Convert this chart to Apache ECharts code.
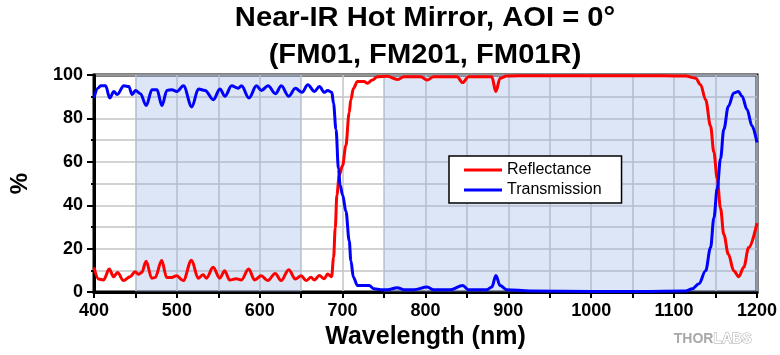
<!DOCTYPE html>
<html>
<head>
<meta charset="utf-8">
<script src="https://cdn.jsdelivr.net/npm/echarts@6/dist/echarts.min.js"></script>
<style>
html,body{margin:0;padding:0;background:#fff;}
#chart{width:780px;height:355px;}
</style>
</head>
<body>
<div id="chart"></div>
<script>
// ---- data ----
var titleLines = ['Near-IR Hot Mirror, AOI = 0°', '(FM01, FM201, FM01R)'];
var xName = 'Wavelength (nm)';
var yName = '%';
var seriesNames = ['Reflectance', 'Transmission'];
var shadedBands = [[450, 650], [750, 1200]];

var reflWl = [400, 405.6, 411.6, 418.4, 423.6, 428.4, 435.6, 443.6, 449.6, 453.7, 457.6, 462.9, 469.7, 473.7, 481.7, 487.7, 493.7, 499.7, 507.7, 517.7, 525.7, 531.7, 535.7, 543.7, 551.7, 557.7, 563.7, 571.8, 577.8, 586.6, 593.8, 601.8, 609.8, 618.6, 625.8, 635, 643, 650, 655.9, 661.9, 665.8, 671.9, 677.9, 681.9, 686.7, 689.1, 691.1, 693.1, 695.9, 699.9, 703.9, 707.9, 709.9, 713.1, 717.9, 725.9, 729.9, 735.9, 741.9, 754, 766, 774, 794, 802, 810, 838, 844.8, 852, 880, 884.9, 890, 898, 926, 1000, 1060, 1114, 1126, 1132, 1138, 1144, 1148, 1152, 1156, 1160, 1165.5, 1172, 1178, 1184, 1190, 1200];
var reflVal = [11.4, 6, 5.6, 10.6, 7.1, 9, 5.3, 7.1, 9.4, 8.2, 9, 14.2, 6.4, 6.7, 14.5, 6.7, 6.7, 7.5, 5.3, 14.7, 6.4, 8, 6.4, 11.4, 6.4, 9.8, 5.6, 6.1, 5.6, 10.6, 5.6, 7.5, 5.3, 8.6, 5.3, 10.3, 6, 7.5, 5.3, 6.8, 5.6, 7.6, 6.1, 8.3, 7.1, 15.9, 29.5, 44.7, 53.8, 58.3, 67.4, 82.6, 88.6, 93.9, 97, 97, 96.2, 97.7, 99.2, 99.4, 97.9, 99.2, 99.2, 97.7, 99.2, 99.2, 96.5, 99.2, 99.2, 92.4, 98.5, 99.5, 99.7, 99.6, 99.7, 99.5, 98.5, 95.5, 88.6, 76.5, 64.4, 52.3, 38.6, 26.5, 17.4, 9.8, 7.1, 11.4, 20.5, 31.8];

var transWl = [400, 405, 408, 414, 419, 424, 428, 436, 442, 446, 450, 456, 463, 470, 476, 482, 488, 494, 500, 508, 518, 526, 534, 544, 552, 558, 566, 574, 578, 587, 596, 602, 610, 619, 626, 635, 643, 651, 658, 666, 672, 678, 682, 687, 689, 692, 695, 697, 700, 704, 708, 710, 713, 718, 726, 732, 738, 746, 754, 766, 774, 786, 802, 810, 830, 845, 852, 874, 880, 885, 890, 898, 926, 1000, 1060, 1114, 1122, 1130, 1138, 1144, 1148, 1152, 1156, 1160, 1165.5, 1172, 1177.6, 1182, 1188, 1194, 1200];
var transVal = [89.4, 94, 95, 95, 89.4, 92.4, 91, 95, 94.7, 91, 92.9, 91.4, 85.9, 93.2, 93.2, 85.9, 92.9, 93.2, 92.4, 95, 85.3, 93.5, 92.9, 88.6, 93.5, 90.2, 95, 93.9, 95, 89.4, 95, 92.9, 95, 91.4, 95, 90.2, 93.9, 92, 95.5, 92.4, 94.7, 92, 92.9, 92, 87, 75, 56.8, 49.2, 44.7, 37.2, 23.5, 14.4, 6.8, 3, 3, 3, 1.5, 1.1, 1.1, 2, 1.1, 1.1, 2.3, 1.1, 1.1, 3, 1.1, 1.1, 2.3, 7.6, 3, 1.1, 0.5, 0.3, 0.3, 0.5, 1.5, 3.8, 9.8, 20.5, 34.1, 47.7, 61.4, 75, 85.6, 91.7, 92.4, 90.2, 84.1, 76.5, 68.9];

function zip(xs, ys) { return xs.map(function (x, i) { return [x, ys[i]]; }); }

var chart = echarts.init(document.getElementById('chart'), null, {renderer: 'canvas'});
var FONT = 'Liberation Sans, Arial, sans-serif';
var plotLeft = 92, plotRight = 758;
var cx = (plotLeft + plotRight) / 2;

function titleText(str, y) {
  return {type: 'text', x: cx, y: y, scaleX: 1.08, scaleY: 1,
    style: {x: 0, y: 0, text: str, fontFamily: FONT, fontSize: 27, fontWeight: 'bold',
            fill: '#000', align: 'center', verticalAlign: 'middle'}};
}

chart.setOption({
  animation: false,
  backgroundColor: '#ffffff',
  textStyle: {fontFamily: FONT},
  grid: {left: plotLeft, right: 780 - plotRight, top: 75, bottom: 60, show: true,
         backgroundColor: 'transparent', borderColor: '#000', borderWidth: 3},
  graphic: [
    titleText(titleLines[0], 19),
    titleText(titleLines[1], 56),
    {type: 'text', right: 28, top: 332, style: {
      text: '{a|THOR}{b|LABS}',
      rich: {
        a: {fontFamily: FONT, fontSize: 14, fontWeight: 'bold', fill: '#a8a8a8'},
        b: {fontFamily: FONT, fontSize: 14, fontWeight: 'bold', fill: '#ffffff', stroke: '#a8a8a8', lineWidth: 1}
      }}}
  ],
  legend: {
    orient: 'vertical', left: 449, top: 156,
    padding: [6, 20, 5, 15],
    itemGap: 4, itemWidth: 38, itemHeight: 3, icon: 'rect',
    backgroundColor: '#fff', borderColor: '#000', borderWidth: 1.5,
    textStyle: {fontFamily: FONT, fontSize: 16, color: '#000', padding: [0, 0, 0, 0]},
    data: seriesNames
  },
  xAxis: {
    type: 'value', min: 400, max: 1200, interval: 100,
    name: xName, nameLocation: 'middle', nameGap: 29,
    nameTextStyle: {fontFamily: FONT, fontSize: 25, fontWeight: 'bold', color: '#000'},
    axisLine: {show: true, onZero: false, lineStyle: {color: '#000', width: 3}},
    axisTick: {show: true, length: 6, lineStyle: {color: '#000', width: 2}},
    minorTick: {show: true, splitNumber: 2, length: 6, lineStyle: {color: '#000', width: 2}},
    axisLabel: {fontFamily: FONT, fontSize: 18, fontWeight: 'bold', color: '#000', margin: 10,
                formatter: function (v) { return String(v); }},
    splitLine: {show: true, lineStyle: {color: '#c4c4c4', width: 1.5}},
    minorSplitLine: {show: true, lineStyle: {color: '#c4c4c4', width: 1.5}}
  },
  yAxis: {
    type: 'value', min: 0, max: 100, interval: 20,
    name: yName, nameLocation: 'middle', nameGap: 62, nameRotate: 90,
    nameTextStyle: {fontFamily: FONT, fontSize: 24, fontWeight: 'bold', color: '#000'},
    axisLine: {show: true, lineStyle: {color: '#000', width: 3}},
    axisTick: {show: true, length: 7, lineStyle: {color: '#000', width: 2}},
    minorTick: {show: true, splitNumber: 2, length: 3, lineStyle: {color: '#000', width: 2}},
    axisLabel: {fontFamily: FONT, fontSize: 18, fontWeight: 'bold', color: '#000', margin: 11},
    splitLine: {show: true, lineStyle: {color: '#c4c4c4', width: 1.5}},
    minorSplitLine: {show: true, lineStyle: {color: '#c4c4c4', width: 1.5}}
  },
  series: [
    {
      name: 'bands', type: 'line', data: [], silent: true,
      markArea: {silent: true, itemStyle: {color: 'rgba(142,172,225,0.3)'},
        data: shadedBands.map(function (b) { return [{xAxis: b[0]}, {xAxis: b[1]}]; })}
    },
    {
      name: seriesNames[0], type: 'line', data: zip(reflWl, reflVal),
      showSymbol: false, smooth: 0.35, smoothMonotone: 'x',
      lineStyle: {color: '#ff0000', width: 3}, itemStyle: {color: '#ff0000'}
    },
    {
      name: seriesNames[1], type: 'line', data: zip(transWl, transVal),
      showSymbol: false, smooth: 0.35, smoothMonotone: 'x',
      lineStyle: {color: '#0000ff', width: 3}, itemStyle: {color: '#0000ff'}
    }
  ]
});
</script>
</body>
</html>
